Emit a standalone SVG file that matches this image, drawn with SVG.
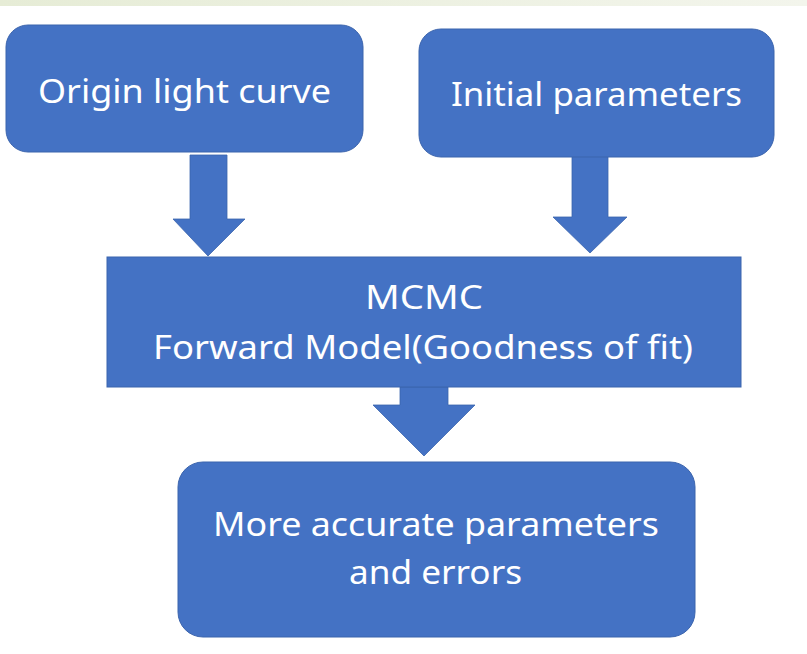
<svg xmlns="http://www.w3.org/2000/svg" width="807" height="654" viewBox="0 0 807 654">
<defs>
<linearGradient id="strip" x1="0" y1="0" x2="1" y2="0">
<stop offset="0" stop-color="#e6ecd6"/>
<stop offset="1" stop-color="#f3f5ec"/>
</linearGradient>
<style>
.box{fill:#4472c4;stroke:#3b64ad;stroke-width:1}
.arr{fill:#4472c4;stroke:#3b64ad;stroke-width:0.8}
.t{font-family:"Noto Sans","Open Sans",sans-serif;font-size:32px;fill:#ffffff;text-anchor:middle}
</style>
</defs>
<rect x="0" y="0" width="807" height="654" fill="#ffffff"/>
<rect x="0" y="0" width="807" height="6" fill="url(#strip)"/>
<g id="connectors">
<polygon class="arr" points="190,155 227,155 227,219 245,219 208,256 173,219 190,219"/>
<polygon class="arr" points="572,155 608,155 608,217 627,217 590,253 553,217 572,217"/>
<polygon class="arr" points="400,387 448,387 448,405 475,405 424,456 373,405 400,405"/>
</g>
<g id="origin">
<rect class="box" x="6" y="25" width="357" height="127" rx="22"/>
<text class="t" x="184.5" y="103" textLength="293" lengthAdjust="spacingAndGlyphs">Origin light curve</text>
</g>
<g id="initial">
<rect class="box" x="419" y="29" width="355" height="128" rx="22"/>
<text class="t" x="596.5" y="106" textLength="291" lengthAdjust="spacingAndGlyphs">Initial parameters</text>
</g>
<g id="mcmc">
<rect class="box" x="107" y="257" width="634" height="130"/>
<text class="t" x="424" y="309" textLength="118" lengthAdjust="spacingAndGlyphs">MCMC</text>
<text class="t" x="423" y="359" textLength="540" lengthAdjust="spacingAndGlyphs">Forward Model(Goodness of fit)</text>
</g>
<g id="result">
<rect class="box" x="178" y="462" width="517" height="175" rx="25"/>
<text class="t" x="436" y="536" textLength="446" lengthAdjust="spacingAndGlyphs">More accurate parameters</text>
<text class="t" x="435.5" y="584" textLength="173" lengthAdjust="spacingAndGlyphs">and errors</text>
</g>
</svg>
